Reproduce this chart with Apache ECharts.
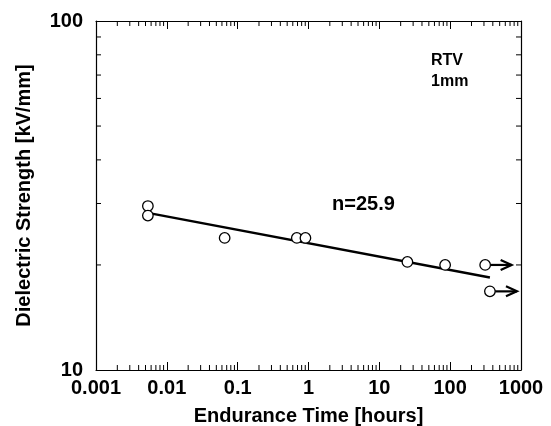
<!DOCTYPE html>
<html>
<head>
<meta charset="utf-8">
<script src="https://cdn.jsdelivr.net/npm/echarts@6/dist/echarts.min.js"></script>
<style>
  html, body { margin: 0; padding: 0; background: #fff; }
  #chart { width: 551px; height: 426px; }
</style>
</head>
<body>
<div id="chart"></div>
<script>
// measured points (endurance time in hours, strength in kV/mm)
var ptX = [0.0054, 0.0054, 0.0655, 0.684, 0.905, 24.9, 84.9, 312, 364]
var ptY = [29.5, 27.7, 23.9, 23.9, 23.9, 20.4, 20.0, 20.0, 16.8]

// fitted line, n = 25.9
var fitX = [0.0054, 364]
var fitY = [28.2, 18.4]

// run-out arrows
var arrowFrom = [376, 428]
var arrowTo = [762, 906]
var arrowY = [20.0, 16.8]

var xTickLabels = ['0.001', '0.01', '0.1', '1', '10', '100', '1000']
var yTickLabels = ['10', '100']
var xMinor = []
var yMinor = [20, 30, 40, 50, 60, 70, 80, 90]
;[0.001, 0.01, 0.1, 1, 10, 100].forEach(function (d) {
  for (var k = 2; k <= 9; ++k) xMinor.push(+(d * k).toPrecision(3))
})

var FONT = 'Liberation Sans, Arial, sans-serif'
var lbl = { color: '#000', fontFamily: FONT, fontWeight: 'bold', fontSize: 20 }

function minorTicks(params, api) {
  var cs = params.coordSys
  var v = api.value(0), axis = api.value(1)
  var len = 5
  var st = { stroke: '#000', lineWidth: 1 }
  if (axis === 0) {
    var px = api.coord([v, 10])[0]
    var top = cs.y, bot = cs.y + cs.height
    return { type: 'group', children: [
      { type: 'line', shape: { x1: px, y1: bot, x2: px, y2: bot - len }, style: st },
      { type: 'line', shape: { x1: px, y1: top, x2: px, y2: top + len }, style: st }
    ] }
  }
  var py = api.coord([1, v])[1]
  var l = cs.x, r = cs.x + cs.width
  return { type: 'group', children: [
    { type: 'line', shape: { x1: l, y1: py, x2: l + len, y2: py }, style: st },
    { type: 'line', shape: { x1: r, y1: py, x2: r - len, y2: py }, style: st }
  ] }
}

function drawArrow(params, api) {
  var p1 = api.coord([api.value(0), api.value(2)])
  var p2 = api.coord([api.value(1), api.value(2)])
  var st = { stroke: '#000', lineWidth: 2.2, fill: null, lineJoin: 'miter' }
  return { type: 'group', children: [
    { type: 'line', shape: { x1: p1[0], y1: p1[1], x2: p2[0] - 1, y2: p2[1] }, style: st },
    { type: 'polyline', shape: { points: [[p2[0] - 12, p2[1] - 5], [p2[0] - 1, p2[1]], [p2[0] - 12, p2[1] + 5]] }, style: st }
  ] }
}

var minorData = xMinor.map(function (v) { return [v, 0] }).concat(yMinor.map(function (v) { return [v, 1] }))

var chart = echarts.init(document.getElementById('chart'))
var axisLineSt = { show: true, lineStyle: { color: '#000', width: 1.2 } }
chart.setOption({
  animation: false,
  backgroundColor: '#fff',
  grid: { left: 96, right: 30, top: 21, bottom: 56, containLabel: false, outerBoundsMode: 'none' },
  xAxis: [{
    type: 'log', logBase: 10, min: 0.001, max: 1000,
    name: 'Endurance Time [hours]', nameLocation: 'middle', nameGap: 36,
    nameTextStyle: { color: '#000', fontFamily: FONT, fontWeight: 'bold', fontSize: 20 },
    axisLine: axisLineSt,
    axisTick: { inside: true, length: 8, lineStyle: { color: '#000' } },
    axisLabel: Object.assign({ margin: 8, formatter: function (v, i) { return xTickLabels[i] } }, lbl),
    splitLine: { show: false }
  }, {
    type: 'log', logBase: 10, min: 0.001, max: 1000, position: 'top',
    axisLine: axisLineSt,
    axisTick: { inside: true, length: 8, lineStyle: { color: '#000' } },
    axisLabel: { show: false }, splitLine: { show: false }
  }],
  yAxis: [{
    type: 'log', logBase: 10, min: 10, max: 100,
    name: 'Dielectric Strength [kV/mm]', nameLocation: 'middle', nameGap: 62,
    nameTextStyle: { color: '#000', fontFamily: FONT, fontWeight: 'bold', fontSize: 20 },
    axisLine: axisLineSt,
    axisTick: { inside: true, length: 8, lineStyle: { color: '#000' } },
    axisLabel: Object.assign({ margin: 13, formatter: function (v, i) { return yTickLabels[i] } }, lbl),
    splitLine: { show: false }
  }, {
    type: 'log', logBase: 10, min: 10, max: 100, position: 'right',
    axisLine: axisLineSt,
    axisTick: { inside: true, length: 8, lineStyle: { color: '#000' } },
    axisLabel: { show: false }, splitLine: { show: false }
  }],
  graphic: [
    { type: 'text', left: 431, top: 50, style: { text: 'RTV\n1mm', fill: '#000', font: 'bold 16px ' + FONT, lineHeight: 21 } },
    { type: 'text', left: 332, top: 194, style: { text: 'n=25.9', fill: '#000', font: 'bold 20px ' + FONT } }
  ],
  series: [{
    type: 'custom', renderItem: minorTicks, data: minorData, silent: true, clip: false, z: 1
  }, {
    type: 'line', data: fitX.map(function (x, i) { return [x, fitY[i]] }),
    showSymbol: false, lineStyle: { color: '#000', width: 2.5 }, z: 2
  }, {
    type: 'scatter', data: ptX.map(function (x, i) { return [x, ptY[i]] }),
    symbol: 'circle', symbolSize: 10.5,
    itemStyle: { color: '#fff', borderColor: '#000', borderWidth: 1.3, opacity: 1 }, z: 3
  }, {
    type: 'custom', renderItem: drawArrow, clip: false, z: 3,
    data: arrowFrom.map(function (a, i) { return [a, arrowTo[i], arrowY[i]] })
  }]
})
</script>
</body>
</html>
